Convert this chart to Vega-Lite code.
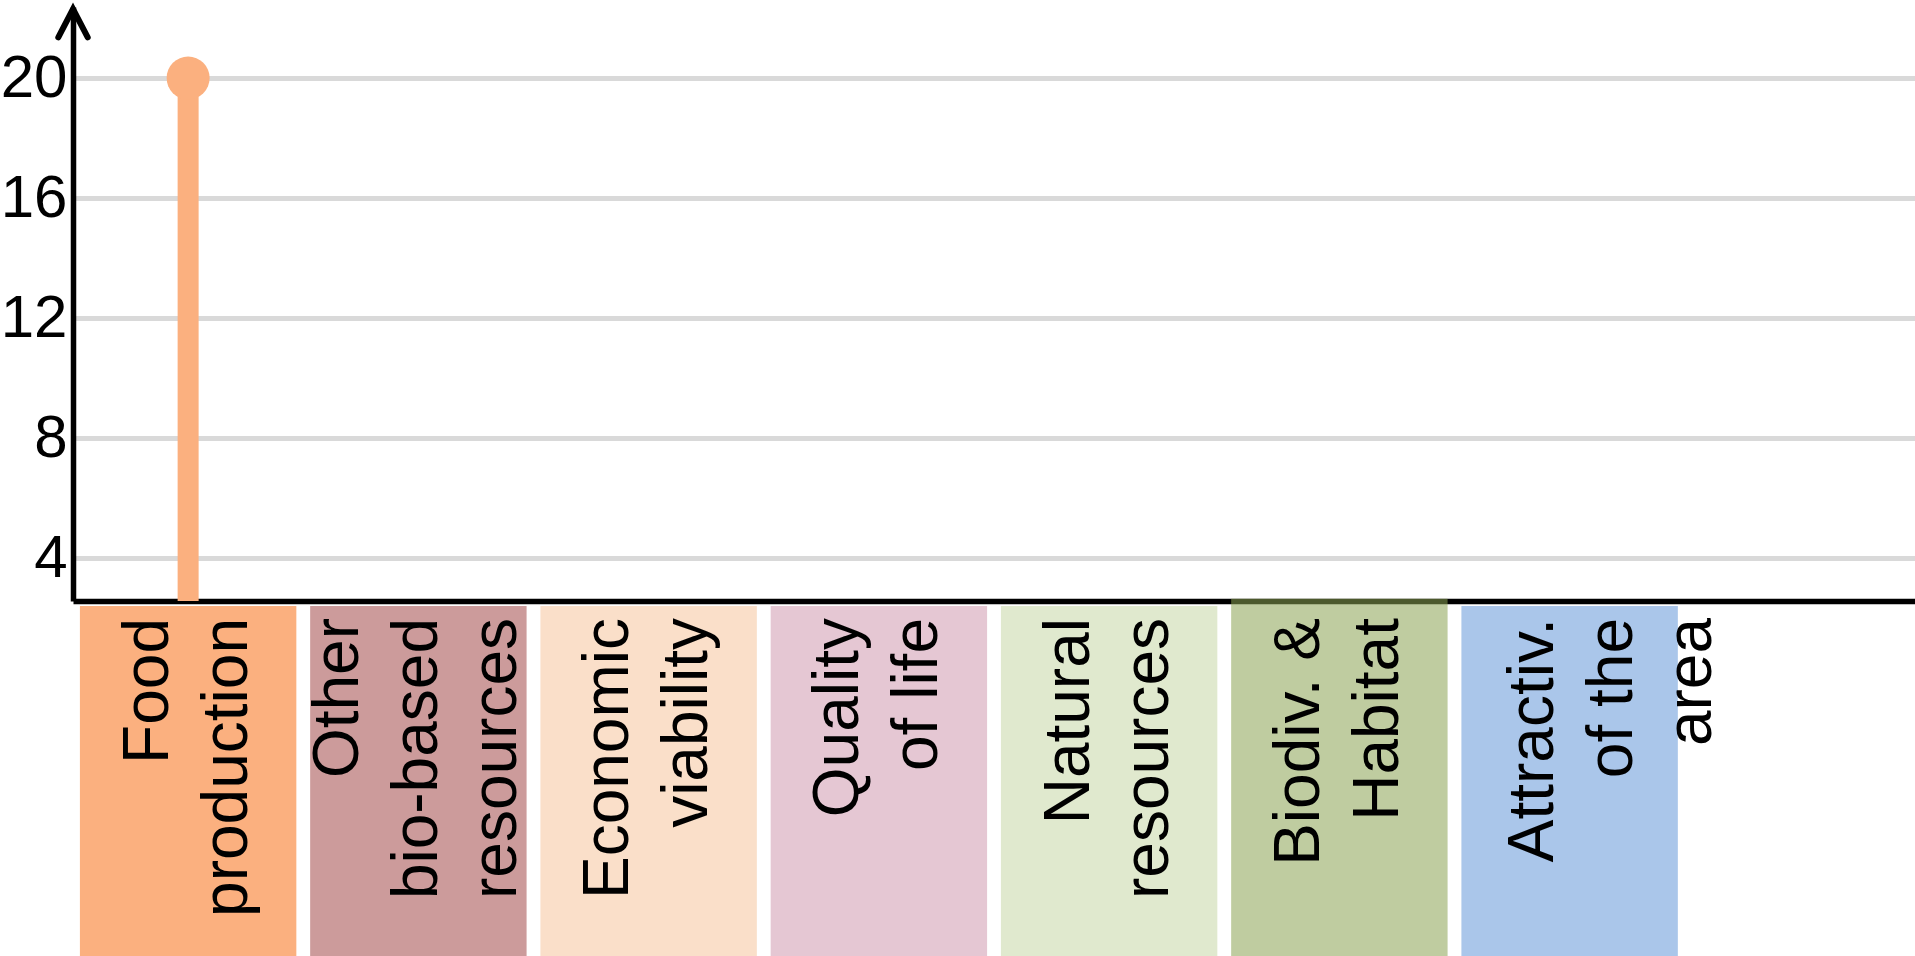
{
  "$schema": "https://vega.github.io/schema/vega-lite/v6.json",
  "width": 1842,
  "height": 594,
  "autosize": {"type": "none"},
  "padding": {"left": 73, "top": 7, "right": 0, "bottom": 355},
  "background": "white",
  "config": {"view": {"stroke": null}},
  "data": {
    "values": [
      {"category": "Food production", "label": "Food\nproduction", "lines": 2, "value": 20},
      {"category": "Other bio-based resources", "label": "Other\nbio-based\nresources", "lines": 3, "value": null},
      {"category": "Economic viability", "label": "Economic\nviability", "lines": 2, "value": null},
      {"category": "Quality of life", "label": "Quality\nof life", "lines": 2, "value": null},
      {"category": "Natural resources", "label": "Natural\nresources", "lines": 2, "value": null},
      {"category": "Biodiv. & Habitat", "label": "Biodiv.  &\nHabitat", "lines": 2, "value": null},
      {"category": "Attractiv. of the area", "label": "Attractiv.\nof the\narea", "lines": 3, "value": null}
    ]
  },
  "encoding": {
    "x": {
      "field": "category",
      "type": "nominal",
      "sort": null,
      "scale": {
        "domain": ["Food production", "Other bio-based resources", "Economic viability", "Quality of life", "Natural resources", "Biodiv. & Habitat", "Attractiv. of the area", "_empty"],
        "paddingInner": 0.06,
        "paddingOuter": 0.03
      },
      "axis": {"labels": false, "ticks": false, "title": null, "domain": true, "domainColor": "black", "domainWidth": 5.5, "grid": false}
    }
  },
  "layer": [
    {
      "transform": [{"filter": "datum.category != 'Biodiv. & Habitat'"}],
      "mark": {"type": "bar"},
      "encoding": {
        "y": {
          "datum": 2.4,
          "type": "quantitative",
          "scale": {"domain": [2.567, 22.367], "nice": false, "zero": false},
          "axis": {
            "values": [4, 8, 12, 16, 20],
            "title": null,
            "ticks": false,
            "tickSize": 0,
            "domain": true,
            "domainColor": "black",
            "domainWidth": 5.5,
            "grid": true,
            "gridColor": "#d9d9d9",
            "gridWidth": 5,
            "labelFont": "Liberation Sans",
            "labelFontSize": 60,
            "labelColor": "black",
            "labelPadding": 6
          }
        },
        "y2": {"datum": -9.5},
        "color": {
          "field": "category",
          "type": "nominal",
          "legend": null,
          "scale": {
            "domain": ["Food production", "Other bio-based resources", "Economic viability", "Quality of life", "Natural resources", "Biodiv. & Habitat", "Attractiv. of the area"],
            "range": ["#fbb07f", "#cc9b9b", "#fadfc9", "#e5c7d3", "#e0e9ce", "#bdca9e", "#aac6ea"]
          }
        }
      }
    },
    {
      "transform": [{"filter": "datum.category == 'Biodiv. & Habitat'"}],
      "mark": {"type": "bar", "color": "#8aa352", "opacity": 0.55},
      "encoding": {
        "y": {"datum": 2.64, "type": "quantitative"},
        "y2": {"datum": -9.5}
      }
    },
    {
      "transform": [{"filter": "datum.lines == 2"}],
      "mark": {"type": "text", "angle": 270, "align": "right", "baseline": "middle", "lineBreak": "\n", "font": "Liberation Sans", "fontSize": 64, "lineHeight": 79, "color": "black", "dy": -39.5},
      "encoding": {
        "y": {"datum": 2.0, "type": "quantitative"},
        "text": {"field": "label"}
      }
    },
    {
      "transform": [{"filter": "datum.category == 'Other bio-based resources'"}],
      "mark": {"type": "text", "angle": 270, "align": "right", "baseline": "middle", "lineBreak": "\n", "font": "Liberation Sans", "fontSize": 64, "lineHeight": 79, "color": "black", "dy": -79},
      "encoding": {
        "y": {"datum": 2.0, "type": "quantitative"},
        "text": {"field": "label"}
      }
    },
    {
      "transform": [{"filter": "datum.category == 'Attractiv. of the area'"}],
      "mark": {"type": "text", "angle": 270, "align": "right", "baseline": "middle", "lineBreak": "\n", "font": "Liberation Sans", "fontSize": 64, "lineHeight": 79, "color": "black", "dy": -36},
      "encoding": {
        "y": {"datum": 2.0, "type": "quantitative"},
        "text": {"field": "label"}
      }
    },
    {
      "transform": [{"filter": "datum.value != null"}],
      "mark": {"type": "rule", "strokeWidth": 21, "color": "#fbb07f", "strokeCap": "butt"},
      "encoding": {
        "y": {"field": "value", "type": "quantitative"},
        "y2": {"datum": 2.567}
      }
    },
    {
      "transform": [{"filter": "datum.value != null"}],
      "mark": {"type": "point", "shape": "circle", "filled": true, "opacity": 1, "size": 1849, "color": "#fbb07f"},
      "encoding": {
        "y": {"field": "value", "type": "quantitative"}
      }
    },
    {
      "transform": [{"filter": "datum.category == 'Food production'"}],
      "mark": {"type": "point", "shape": "M -0.52 1 L 0 0 L 0.52 1", "filled": false, "size": 3200, "stroke": "black", "strokeWidth": 6, "strokeCap": "round", "strokeJoin": "miter", "opacity": 1, "xOffset": -6.9, "yOffset": 2},
      "encoding": {
        "x": {"field": "category", "type": "nominal", "bandPosition": 0},
        "y": {"datum": 22.367, "type": "quantitative"}
      }
    }
  ],
  "resolve": {"scale": {"color": "independent"}}
}
